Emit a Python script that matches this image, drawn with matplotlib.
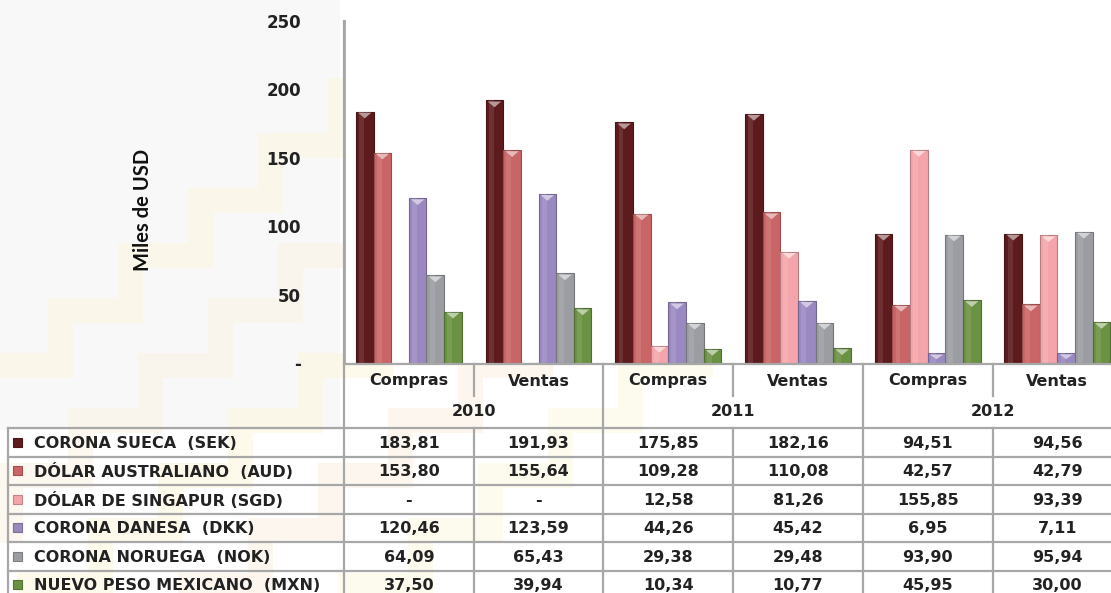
import numpy as np
import matplotlib
matplotlib.use("Agg")
import matplotlib.pyplot as plt
from matplotlib.patches import Polygon, Rectangle
from matplotlib.lines import Line2D
import matplotlib.colors as mcolors

# ---------------- data ----------------
periods = ["Compras", "Ventas", "Compras", "Ventas", "Compras", "Ventas"]
years = ["2010", "2011", "2012"]
series_names = ["CORONA SUECA  (SEK)", "DÓLAR AUSTRALIANO  (AUD)", "DÓLAR DE SINGAPUR (SGD)",
                "CORONA DANESA  (DKK)", "CORONA NORUEGA  (NOK)", "NUEVO PESO MEXICANO  (MXN)"]
sek = [183.81, 191.93, 175.85, 182.16, 94.51, 94.56]
aud = [153.80, 155.64, 109.28, 110.08, 42.57, 42.79]
sgd = [None, None, 12.58, 81.26, 155.85, 93.39]
dkk = [120.46, 123.59, 44.26, 45.42, 6.95, 7.11]
nok = [64.09, 65.43, 29.38, 29.48, 93.90, 95.94]
mxn = [37.50, 39.94, 10.34, 10.77, 45.95, 30.00]
series = [sek, aud, sgd, dkk, nok, mxn]
colors = ["#5e1b1d", "#c96566", "#f4a5ab", "#9a89c1", "#9b9da2", "#6b9142"]
yticks = [0, 50, 100, 150, 200, 250]
ytick_labels = ["-", "50", "100", "150", "200", "250"]
ylabel = "Miles de USD"

# ---------------- layout (pixels) ----------------
W, H = 1111, 593
x0 = 344.0          # left edge of plot / table columns
colw = 129.7        # width of one category column
y_axis0 = 363.0     # pixel row of value 0
y_axis_top = 21.0   # pixel row of value 250
grid_col = "#a7a7a7"

fig = plt.figure(figsize=(W / 100, H / 100), dpi=100)
fig.patch.set_facecolor("white")

# background watermark (faint staircase), kept out of the plot area
bg = fig.add_axes([0, 0, 1, 1], zorder=-5)
bg.set_xlim(0, W); bg.set_ylim(H, 0); bg.axis("off")
bg.add_patch(Rectangle((0, 0), 340, 430, color="#f3f3f3", alpha=0.5, lw=0))
for off, c in [(-320, "#fdf6df"), (-160, "#fbf1e3"), (0, "#fdf5dc"),
               (160, "#faefe2"), (320, "#fdf7e0")]:
    xs, ys = [], []
    x, y = -40 + off, 640
    for k in range(20):
        xs += [x, x + 70]; ys += [y, y]
        x += 70; xs += [x]; ys += [y - 55]; y -= 55
    bg.plot(xs, ys, color=c, lw=18, alpha=0.55, solid_joinstyle="miter")
bg.add_patch(Rectangle((x0, 0), W - x0, y_axis0, color="white", lw=0, zorder=5))

# ---------------- bar chart ----------------
n_cat = len(periods)
ax = fig.add_axes([x0 / W, (H - y_axis0) / H, n_cat * colw / W, (y_axis0 - y_axis_top) / H])
ax.set_facecolor("none")
ax.set_xlim(0, n_cat)
ax.set_ylim(0, 250)
bw = 0.136
centers = np.arange(n_cat) + 0.5
for si, (vals, col) in enumerate(zip(series, colors)):
    v = np.array([0.0 if a is None else a for a in vals])
    xs = centers + (si - 2.5) * bw
    edge = mcolors.to_rgb(col)
    dark = tuple(c * 0.75 for c in edge)
    light = tuple(c + (1 - c) * 0.55 for c in edge)
    bars = ax.bar(xs, v, width=bw, color=col, edgecolor=dark, linewidth=0.8, zorder=3)
    for b in bars:
        h = b.get_height()
        if h <= 0:
            continue
        bx, bwid = b.get_x(), b.get_width()
        ax.add_patch(Rectangle((bx + bwid * 0.18, 0), bwid * 0.28, h,
                               color=light, alpha=0.18, lw=0, zorder=4))
        dh = min(5.0, h * 0.6)
        ax.add_patch(Polygon([(bx + bwid * 0.12, h - 0.8), (bx + bwid * 0.88, h - 0.8),
                              (bx + bwid * 0.5, h - dh)], closed=True,
                             color=light, lw=0, zorder=5))

ax.set_yticks(yticks)
ax.set_yticklabels(ytick_labels, fontsize=12, fontweight="bold", color="#222222",
                   family="DejaVu Sans")
ax.tick_params(axis="y", length=0, pad=31)
ax.tick_params(axis="x", bottom=False, labelbottom=False)
for s in ["top", "right", "bottom"]:
    ax.spines[s].set_visible(False)
ax.spines["left"].set_color(grid_col)
ax.spines["left"].set_linewidth(2)
fig.text(143 / W, 1 - 210 / H, ylabel, rotation=90, ha="center", va="center",
         fontsize=14.5, fontweight="bold", color="#111111",
         family=["Lato", "DejaVu Sans"])

# ---------------- data table ----------------
tb = fig.add_axes([0, 0, 1, 1], zorder=6)
tb.set_xlim(0, W); tb.set_ylim(H, 0); tb.axis("off")
tb.patch.set_alpha(0)

hdr_top, hdr_mid, data_top = 364.0, 396.0, 428.0
row_h = 28.5
n_rows = len(series)
bottom = data_top + row_h * n_rows
xr = x0 + n_cat * colw
left_x = 8.0
lw = 1.6

def hline(y, xa, xb):
    tb.add_line(Line2D([xa, xb], [y, y], color=grid_col, lw=lw))

def vline(x, ya, yb):
    tb.add_line(Line2D([x, x], [ya, yb], color=grid_col, lw=lw))

hline(hdr_top, x0, xr)
for r in range(n_rows + 1):
    hline(data_top + r * row_h, left_x, xr)
vline(x0, y_axis_top, bottom)
vline(left_x, data_top, bottom)
for c in range(1, n_cat):
    xc = x0 + c * colw
    if c % 2 == 0:
        vline(xc, hdr_top, bottom)
    else:
        vline(xc, hdr_top, hdr_mid)
        vline(xc, data_top, bottom)

tfont = dict(family="DejaVu Sans", fontweight="bold", color="#222222")
fs = 11.5
for c, p in enumerate(periods):
    tb.text(x0 + (c + 0.5) * colw, (hdr_top + hdr_mid) / 2 + 1, p, ha="center", va="center",
            fontsize=fs, **tfont)
for yi, yr in enumerate(years):
    tb.text(x0 + (2 * yi + 1) * colw, (hdr_mid + data_top) / 2, yr, ha="center", va="center",
            fontsize=fs, **tfont)

def fmt(v):
    if v is None or v == 0:
        return "-"
    return f"{v:.2f}".replace(".", ",")

for r, (name, vals, col) in enumerate(zip(series_names, series, colors)):
    yc = data_top + (r + 0.5) * row_h
    tb.add_patch(Rectangle((13, yc - 4.5), 9, 9, facecolor=col,
                           edgecolor=tuple(c * 0.8 for c in mcolors.to_rgb(col)), lw=0.8))
    tb.text(34, yc + 1, name, ha="left", va="center", fontsize=fs, **tfont)
    for c, v in enumerate(vals):
        tb.text(x0 + (c + 0.5) * colw, yc + 1, fmt(v), ha="center", va="center",
                fontsize=fs, **tfont)

fig.savefig("out.png", dpi=100)
